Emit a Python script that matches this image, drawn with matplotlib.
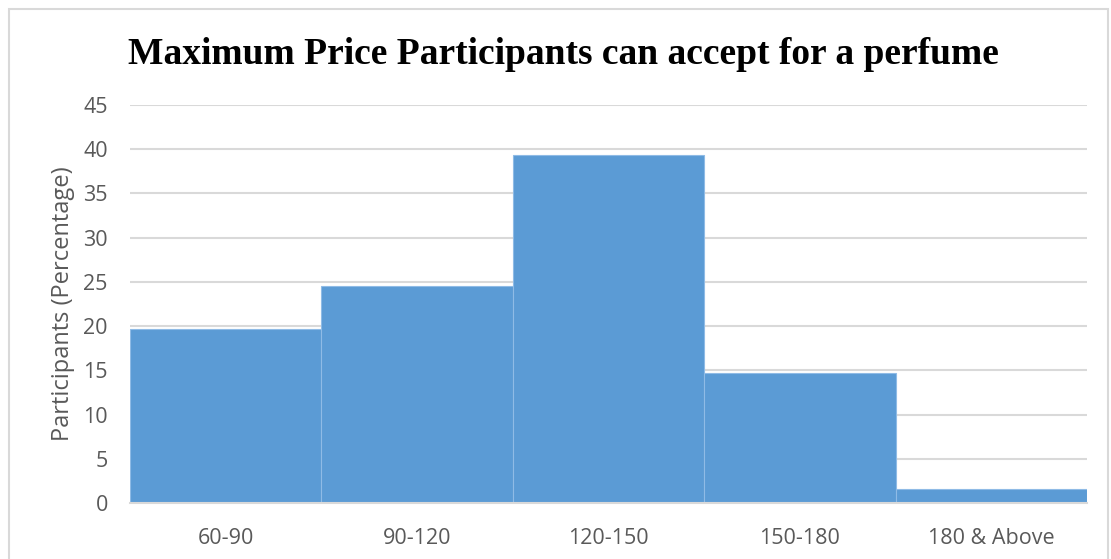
import matplotlib
matplotlib.use("Agg")
import matplotlib.pyplot as plt
from matplotlib.patches import Rectangle

categories = ["60-90", "90-120", "120-150", "150-180", "180 & Above"]
values = [19.7, 24.5, 39.3, 14.7, 1.6]
yticks = [0, 5, 10, 15, 20, 25, 30, 35, 40, 45]

title = "Maximum Price Participants can accept for a perfume"
ylabel = "Participants (Percentage)"

fig = plt.figure(figsize=(11.11, 5.59), dpi=100)
ax = fig.add_axes([130/1111, 1-503/559, (1087-130)/1111, (503-105)/559])

x = list(range(len(categories)))
ax.bar(x, values, width=1.0, color="#5b9bd5", edgecolor="#8fbbe6", linewidth=0.8, zorder=3)
ax.set_xlim(-0.5, len(categories) - 0.5)
ax.set_ylim(0, 45)
ax.set_yticks(yticks)
ax.set_xticks(x)
ax.set_xticklabels(categories)
ax.grid(axis="y", color="#d9d9d9", linewidth=1.5, zorder=0)
for s in ["top", "right", "left"]:
    ax.spines[s].set_visible(False)
ax.spines["bottom"].set_color("#d9d9d9")
ax.spines["bottom"].set_linewidth(1.5)
ax.spines["bottom"].set_zorder(4)
ax.tick_params(length=0, labelcolor="#595959", labelsize=15.5)
ax.tick_params(axis="x", pad=18)
ax.tick_params(axis="y", pad=16)
for lab in ax.get_xticklabels() + ax.get_yticklabels():
    lab.set_fontfamily("Open Sans")
ax.set_ylabel(ylabel, fontsize=17, color="#595959", family="Open Sans", labelpad=6)

fig.text(563/1111, 1-55/559, title, ha="center", va="center",
         fontsize=27, fontweight="bold", family="Liberation Serif", color="black")

fig.patches.append(Rectangle((9/1111, -0.05), (1108-9)/1111, 1.05 - 9/559, transform=fig.transFigure,
                             fill=False, edgecolor="#d9d9d9", linewidth=1.5))

fig.savefig("out.png", dpi=100)
